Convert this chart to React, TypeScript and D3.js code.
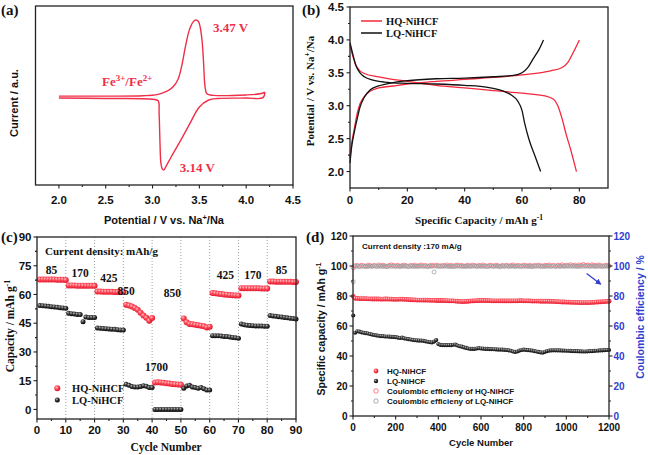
import React from "react";
import * as d3 from "d3";

const SANS = "'Liberation Sans', Arial, Helvetica, sans-serif";
const SERIF = "'Liberation Serif', 'Times New Roman', Times, serif";
const RED = "#f3283c";
const CVRED = "#ef2f48";
const BLUE = "#2f3fd0";
const INK = "#222";

// ---------- (a) CV ----------
const cvAnodicV = [2.0, 2.5, 2.9, 3.05, 3.15, 3.22, 3.27, 3.31, 3.35, 3.39, 3.43, 3.46, 3.49, 3.51, 3.53, 3.545, 3.56, 3.58, 3.65, 4.0, 4.15, 4.2];
const cvAnodicI = [0.02, 0.02, 0.025, 0.04, 0.08, 0.14, 0.23, 0.4, 0.65, 0.86, 0.97, 1.0, 0.98, 0.9, 0.72, 0.45, 0.15, 0.05, 0.03, 0.035, 0.05, 0.07];
const cvCathV = [4.2, 4.18, 4.0, 3.7, 3.6, 3.5, 3.4, 3.3, 3.2, 3.15, 3.12, 3.105, 3.09, 3.08, 3.07, 3.06, 3.0, 2.5, 2.0];
const cvCathI = [0.07, 0.0, -0.005, -0.01, -0.03, -0.12, -0.33, -0.55, -0.76, -0.87, -0.93, -0.92, -0.85, -0.6, -0.2, -0.04, -0.02, -0.01, -0.005];
const aXMajor = [2.0, 2.5, 3.0, 3.5, 4.0, 4.5];
const aXMinor = [2.25, 2.75, 3.25, 3.75, 4.25];

// ---------- (b) charge/discharge ----------
const hqChC = [0, 0.5, 1.5, 2.5, 3.5, 5, 7, 10, 15, 20, 30, 40, 50, 60, 70, 74, 76, 78, 80];
const hqChV = [2.2, 2.4, 2.65, 2.88, 3.03, 3.14, 3.22, 3.27, 3.3, 3.33, 3.37, 3.4, 3.43, 3.47, 3.53, 3.58, 3.66, 3.82, 4.0];
const hqDisC = [0, 1, 2, 3.5, 5, 10, 20, 30, 40, 50, 60, 68, 71, 72.5, 74, 75.5, 77, 79];
const hqDisV = [3.92, 3.75, 3.62, 3.53, 3.49, 3.44, 3.37, 3.31, 3.27, 3.23, 3.19, 3.15, 3.1, 3.0, 2.8, 2.55, 2.33, 2.0];
const lqChC = [0, 0.5, 1.5, 2.5, 3.5, 5, 7, 10, 15, 20, 30, 40, 50, 57, 60, 62, 64, 66, 67.5];
const lqChV = [2.13, 2.35, 2.6, 2.8, 2.98, 3.13, 3.24, 3.3, 3.35, 3.38, 3.41, 3.42, 3.44, 3.46, 3.5, 3.58, 3.72, 3.86, 4.0];
const lqDisC = [0, 1, 2, 3.5, 5, 8, 12, 20, 30, 40, 48, 53, 56, 58.5, 60, 61, 62.5, 64.5, 66.5];
const lqDisV = [3.96, 3.78, 3.62, 3.5, 3.44, 3.39, 3.36, 3.34, 3.33, 3.31, 3.28, 3.23, 3.17, 3.07, 2.93, 2.72, 2.48, 2.24, 2.0];
const bXMajor = [0, 20, 40, 60, 80];
const bXMinor = [10, 30, 50, 70];
const bYMajor = [2.0, 2.5, 3.0, 3.5, 4.0, 4.5];
const bYMinor = [2.25, 2.75, 3.25, 3.75, 4.25];

// ---------- (c) rate ----------
const cHQ = [
  67.8, 67.8, 67.8, 67.8, 67.8, 67.8, 67.7, 67.7, 67.7, 67.6,
  64.7, 64.7, 64.7, 64.6, 64.6, 64.6, 64.6, 64.5, 64.5, 64.5,
  61.5, 61.5, 61.4, 61.4, 61.4, 61.4, 61.3, 61.3, 61.3, 61.3,
  54.7, 54.2, 53.7, 53.0, 52.0, 50.5, 49.0, 47.8, 46.3, 47.7,
  14.0, 14.2, 14.1, 13.9, 13.6, 13.5, 13.3, 13.1, 13.0, 12.9,
  47.5, 45.5, 44.6, 44.4, 44.2, 44.0, 43.7, 43.4, 42.8, 43.2,
  60.8, 60.6, 60.4, 60.2, 60.0, 59.9, 59.7, 59.6, 59.5, 59.4,
  63.3, 63.3, 63.3, 63.2, 63.2, 63.2, 63.2, 63.1, 63.1, 63.1,
  66.8, 66.8, 66.7, 66.7, 66.7, 66.6, 66.6, 66.6, 66.5, 66.5,
];
const cLQ = [
  54.2, 54.1, 54.0, 53.8, 53.6, 53.5, 53.3, 53.1, 53.0, 52.8,
  50.2, 50.0, 49.8, 49.6, 49.5, 45.8, 48.2, 48.0, 48.0, 48.0,
  42.5, 42.4, 42.2, 42.1, 42.0, 41.9, 41.8, 41.6, 41.5, 41.4,
  13.1, 12.6, 11.9, 11.7, 11.7, 11.9, 12.4, 12.1, 11.4, 11.4,
  0, 0, 0, 0, 0, 0, 0, 0, 0, 0,
  11.0, 12.2, 12.6, 11.7, 11.4, 11.0, 11.4, 10.8, 10.1, 10.1,
  38.5, 38.5, 38.4, 38.3, 38.1, 38.0, 37.8, 37.6, 37.4, 37.2,
  44.6, 44.2, 43.9, 43.8, 43.7, 43.6, 43.6, 43.5, 43.4, 43.4,
  49.0, 48.8, 48.6, 48.4, 48.2, 48.0, 47.8, 47.6, 47.4, 47.2,
];
const cRates = ["85", "170", "425", "850", "1700", "850", "425", "170", "85"];
const cRateLabelX = [5, 15, 25, 31, 41.5, 47, 65.5, 75, 85];
const cRateLabelY = [70.6, 69, 66.7, 59.5, 20, 58.5, 68, 68, 70.6];
const cXMajor = [0, 10, 20, 30, 40, 50, 60, 70, 80, 90];
const cXMinor = [5, 15, 25, 35, 45, 55, 65, 75, 85];
const cYMajor = [0, 15, 30, 45, 60, 75, 90];
const cYMinor = [7.5, 22.5, 37.5, 52.5, 67.5, 82.5];
const cGrid = [10, 20, 30, 40, 50, 60, 70, 80];

// ---------- (d) long cycling (cycle 1, then every 10 cycles) ----------
const dCycles = [1, ...d3.range(10, 1201, 10)];
const dCapHQ = [
  79.8,
  78.5, 78.4, 78.3, 78.3, 78.2, 78.2, 78.1, 78.1, 78.0, 78.0, 78.0, 78.0, 77.9, 77.9, 78.0, 78.0, 77.9, 77.9, 77.8, 77.8,
  77.8, 77.9, 77.9, 77.8, 77.7, 77.6, 77.5, 77.4, 77.4, 77.3, 77.3, 77.3, 77.2, 77.2, 77.2, 77.1, 77.1, 77.1, 77.0, 77.0,
  77.0, 77.0, 76.9, 76.9, 76.8, 76.8, 76.7, 76.6, 76.5, 76.4, 76.3, 76.3, 76.4, 76.5, 76.6, 76.7, 76.8, 76.9, 77.0, 77.0,
  77.0, 77.0, 76.9, 76.9, 76.8, 76.8, 76.8, 76.8, 76.8, 76.7, 76.7, 76.7, 76.7, 76.7, 76.8, 76.8, 76.8, 76.9, 76.9, 76.8,
  76.8, 76.7, 76.7, 76.6, 76.6, 76.6, 76.6, 76.5, 76.5, 76.5, 76.5, 76.5, 76.4, 76.4, 76.3, 76.2, 76.1, 76.0, 76.0, 75.9,
  75.9, 75.8, 75.8, 75.7, 75.7, 75.6, 75.6, 75.6, 75.6, 75.6, 75.6, 75.7, 75.8, 75.9, 76.0, 76.1, 76.2, 76.3, 76.4, 76.5,
];
const dCapLQ = [
  67.0,
  55.5, 56.5, 56.2, 55.8, 55.5, 55.2, 55.0, 54.6, 54.3, 54.0, 53.7, 53.5, 53.3, 53.2, 53.0, 53.0, 52.9, 52.8, 52.7, 52.6,
  52.3, 52.0, 52.2, 51.8, 51.5, 51.2, 51.0, 50.8, 50.5, 50.4, 50.3, 50.3, 50.1, 49.8, 49.5, 49.3, 49.0, 49.6, 50.6, 48.0,
  47.4, 47.3, 47.3, 47.2, 47.3, 47.2, 47.5, 47.6, 47.0, 46.5, 46.2, 45.8, 45.4, 45.0, 44.8, 44.7, 44.8, 45.0, 45.2, 45.0,
  44.9, 44.8, 44.7, 44.6, 44.6, 44.5, 44.4, 44.3, 44.3, 44.2, 44.1, 44.0, 43.8, 43.5, 43.0, 42.7, 43.0, 43.6, 44.0, 44.2,
  44.1, 43.9, 43.8, 43.6, 43.3, 43.0, 42.7, 42.4, 42.3, 42.8, 43.3, 43.6, 43.7, 43.8, 43.8, 43.7, 43.7, 43.6, 43.6, 43.5,
  43.5, 43.4, 43.3, 43.2, 43.2, 43.1, 43.1, 43.0, 43.0, 43.1, 43.2, 43.3, 43.4, 43.5, 43.6, 43.7, 43.8, 43.9, 44.0, 44.0,
];
const dCeHQ = [
  98.8,
  100.2, 100.4, 99.8, 100.5, 100.1, 99.7, 100.6, 100.3, 100.0, 100.4, 99.9, 100.7, 100.2, 100.5, 100.1, 99.6, 100.4, 100.8, 100.3, 100.0,
  100.5, 99.8, 100.3, 100.6, 100.1, 99.7, 100.4, 100.2, 100.6, 99.9, 100.3, 100.7, 100.0, 100.4, 99.8, 100.2, 100.5, 100.1, 100.6, 100.3,
  99.9, 100.4, 100.2, 100.7, 100.0, 100.5, 99.7, 100.3, 100.6, 100.1, 100.4, 99.8, 100.2, 100.5, 100.0, 100.6, 100.3, 99.9, 100.4, 100.2,
  100.7, 100.1, 99.8, 100.5, 100.3, 100.0, 100.6, 100.2, 99.7, 100.4, 100.1, 100.5, 99.9, 100.3, 100.7, 100.0, 100.4, 100.2, 99.8, 100.6,
  100.3, 100.0, 100.5, 99.7, 100.4, 100.1, 100.6, 100.2, 99.9, 100.5, 100.3, 100.7, 100.0, 100.4, 99.8, 100.6, 100.2, 100.8, 100.1, 100.5,
  100.3, 100.9, 100.2, 100.6, 99.9, 100.7, 100.4, 101.0, 100.3, 100.6, 100.1, 100.8, 100.5, 100.2, 100.7, 100.4, 99.8, 100.3, 100.5, 100.1,
];
const dCeLQ = [
  89.5,
  99.7, 99.9, 99.8, 100.0, 99.8, 99.9, 99.7, 99.9, 99.8, 100.0, 99.9, 99.8, 99.9, 99.7, 99.9, 99.8, 100.0, 99.8, 99.9, 99.8,
  99.9, 99.7, 99.9, 99.8, 100.0, 99.8, 99.9, 99.8, 99.7, 99.9, 99.8, 99.9, 100.0, 99.8, 99.7, 99.9, 99.8, 96.0, 99.9, 99.8,
  99.9, 99.8, 100.0, 99.8, 99.9, 99.7, 99.9, 99.8, 99.9, 100.0, 99.8, 99.9, 99.7, 99.9, 99.8, 99.9, 100.0, 99.8, 99.9, 99.8,
  99.8, 99.9, 99.7, 99.9, 100.0, 99.8, 99.9, 99.8, 99.7, 99.9, 99.8, 100.0, 99.9, 99.8, 99.9, 99.7, 99.9, 99.8, 100.0, 99.9,
  99.8, 99.9, 99.7, 99.9, 99.8, 100.0, 99.9, 99.8, 99.9, 99.7, 99.9, 99.8, 99.9, 100.0, 99.8, 99.9, 99.7, 99.9, 99.8, 99.9,
  99.9, 99.8, 100.0, 99.8, 99.9, 99.7, 99.9, 99.8, 99.9, 100.0, 99.8, 99.9, 99.8, 99.7, 99.9, 99.8, 100.0, 99.9, 99.8, 99.9,
];
const dXMajor = [0, 200, 400, 600, 800, 1000, 1200];
const dXMinor = [100, 300, 500, 700, 900, 1100];
const dYMajor = [0, 20, 40, 60, 80, 100, 120];
const dYMinor = [10, 30, 50, 70, 90, 110];
const dLegend = ["HQ-NiHCF", "LQ-NiHCF", "Coulombic efficieny of HQ-NiHCF", "Coulombic efficieny of LQ-NiHCF"];

// ---------- helpers ----------
type AxisP = {
  orient: "bottom" | "left" | "right";
  scale: any;
  at: number;
  major: number[];
  minor?: number[];
  fmt: (v: number) => string;
  font: string;
  size: number;
  color?: string;
  off: number;
  len?: number;
  mlen?: number;
};
function Axis(p: AxisP) {
  const len = p.len ?? 3.5;
  const mlen = p.mlen ?? 2;
  const out: any[] = [];
  const tick = (v: number, l: number, key: string) => {
    const s = p.scale(v);
    if (p.orient === "bottom") out.push(<line key={key} x1={s} x2={s} y1={p.at} y2={p.at + l} stroke={INK} strokeWidth={1.1} />);
    else if (p.orient === "left") out.push(<line key={key} x1={p.at} x2={p.at - l} y1={s} y2={s} stroke={INK} strokeWidth={1.1} />);
    else out.push(<line key={key} x1={p.at} x2={p.at + l} y1={s} y2={s} stroke={INK} strokeWidth={1.1} />);
  };
  p.major.forEach((v, i) => tick(v, len, "M" + i));
  (p.minor || []).forEach((v, i) => tick(v, mlen, "m" + i));
  p.major.forEach((v, i) => {
    const s = p.scale(v);
    const common = { fontFamily: p.font, fontSize: p.size, fontWeight: 700, fill: p.color || "#111" };
    if (p.orient === "bottom")
      out.push(<text key={"t" + i} x={s} y={p.at + p.off} textAnchor="middle" {...common}>{p.fmt(v)}</text>);
    else if (p.orient === "left")
      out.push(<text key={"t" + i} x={p.at - p.off} y={s} dy="0.36em" textAnchor="end" {...common}>{p.fmt(v)}</text>);
    else
      out.push(<text key={"t" + i} x={p.at + p.off} y={s} dy="0.36em" textAnchor="start" {...common}>{p.fmt(v)}</text>);
  });
  return <g>{out}</g>;
}

function Frame({ x, y }: { x: any; y: any }) {
  const [x0, x1] = x.range();
  const [y0, y1] = y.range();
  return (
    <rect x={Math.min(x0, x1)} y={Math.min(y0, y1)} width={Math.abs(x1 - x0)} height={Math.abs(y1 - y0)}
      fill="none" stroke={INK} strokeWidth={1.3} />
  );
}

const f1 = (v: number) => v.toFixed(1);
const f0 = (v: number) => String(v);

export default function App() {
  const ax = d3.scaleLinear([1.75, 4.5], [35.5, 293]);
  const ay = d3.scaleLinear([-1.124, 1.18], [185, 6]);
  const bx = d3.scaleLinear([0, 90], [350, 608]);
  const by = d3.scaleLinear([1.75, 4.5], [188, 7]);
  const cx = d3.scaleLinear([0, 90], [37, 296]);
  const cy = d3.scaleLinear([-5, 90], [419, 237]);
  const dx = d3.scaleLinear([0, 1200], [353, 609]);
  const dy = d3.scaleLinear([0, 120], [416, 236]);

  const cvLine = d3.line<number>().curve(d3.curveCatmullRom.alpha(0.5));
  const anodic = cvLine(cvAnodicV.map((v, i) => [ax(v), ay(cvAnodicI[i])] as any) as any);
  const cath = cvLine(cvCathV.map((v, i) => [ax(v), ay(cvCathI[i])] as any) as any);

  const bLine = (cs: number[], vs: number[]) =>
    d3.line<number>().curve(d3.curveMonotoneX)(cs.map((c, i) => [bx(c), by(vs[i])] as any) as any);

  const cycles90 = d3.range(1, 91);

  return (
    <svg width={648} height={455} viewBox="0 0 648 455"
      style={{ position: "absolute", left: 0, top: 0, background: "#fff" }}>
      <defs>
        <radialGradient id="gRed" cx="38%" cy="35%" r="65%">
          <stop offset="0%" stopColor="#ffc4c8" />
          <stop offset="45%" stopColor="#ff4a58" />
          <stop offset="100%" stopColor="#e0122a" />
        </radialGradient>
        <radialGradient id="gBlk" cx="38%" cy="35%" r="65%">
          <stop offset="0%" stopColor="#b8b8b8" />
          <stop offset="45%" stopColor="#3a3a3a" />
          <stop offset="100%" stopColor="#050505" />
        </radialGradient>
        <marker id="arr" viewBox="0 0 10 10" refX="8" refY="5" markerWidth="5" markerHeight="5" orient="auto">
          <path d="M0,0 L10,5 L0,10 z" fill={BLUE} />
        </marker>
      </defs>

      {/* ================= (a) ================= */}
      <text x={1} y={15} fontFamily={SERIF} fontWeight={700} fontSize={15} fill="#111">(a)</text>
      <path d={anodic || ""} fill="none" stroke={CVRED} strokeWidth={1.4} />
      <path d={cath || ""} fill="none" stroke={CVRED} strokeWidth={1.4} />
      <Frame x={ax} y={ay} />
      <Axis orient="bottom" scale={ax} at={185} major={aXMajor} minor={aXMinor} fmt={f1} font={SANS} size={11.5} off={19} />
      <text x={ax(3.645)} y={ay(0.845)} fontFamily={SERIF} fontWeight={700} fontSize={13} fill={CVRED}>3.47 V</text>
      <text x={ax(3.29)} y={ay(-0.96)} fontFamily={SERIF} fontWeight={700} fontSize={13} fill={CVRED}>3.14 V</text>
      <text x={ax(2.46)} y={ay(0.15)} fontFamily={SERIF} fontWeight={700} fontSize={13} fill={CVRED}>
        Fe<tspan fontSize={9} dy={-5}>3+</tspan><tspan dy={5}>/Fe</tspan><tspan fontSize={9} dy={-5}>2+</tspan>
      </text>
      <text x={164} y={224} textAnchor="middle" fontFamily={SANS} fontWeight={700} fontSize={11} fill="#111">
        Potential / V vs. Na<tspan fontSize={7.5} dy={-4}>+</tspan><tspan dy={4}>/Na</tspan>
      </text>
      <text transform="translate(18,103) rotate(-90)" textAnchor="middle" fontFamily={SANS} fontWeight={700} fontSize={11} fill="#111">
        Current / a.u.
      </text>

      {/* ================= (b) ================= */}
      <text x={302} y={15} fontFamily={SERIF} fontWeight={700} fontSize={15} fill="#111">(b)</text>
      <path d={bLine(hqChC, hqChV) || ""} fill="none" stroke={RED} strokeWidth={1.3} />
      <path d={bLine(hqDisC, hqDisV) || ""} fill="none" stroke={RED} strokeWidth={1.3} />
      <path d={bLine(lqChC, lqChV) || ""} fill="none" stroke="#111" strokeWidth={1.3} />
      <path d={bLine(lqDisC, lqDisV) || ""} fill="none" stroke="#111" strokeWidth={1.3} />
      <Frame x={bx} y={by} />
      <Axis orient="bottom" scale={bx} at={188} major={bXMajor} minor={bXMinor} fmt={f0} font={SANS} size={11.5} off={16} />
      <Axis orient="left" scale={by} at={350} major={bYMajor} minor={bYMinor} fmt={f1} font={SANS} size={11.5} off={6} />
      <line x1={361} x2={382} y1={21} y2={21} stroke={RED} strokeWidth={1.5} />
      <line x1={361} x2={382} y1={33} y2={33} stroke="#111" strokeWidth={1.5} />
      <text x={386} y={24.5} fontFamily={SERIF} fontWeight={700} fontSize={10.5} fill="#111">HQ-NiHCF</text>
      <text x={386} y={36.5} fontFamily={SERIF} fontWeight={700} fontSize={10.5} fill="#111">LQ-NiHCF</text>
      <text x={479} y={224} textAnchor="middle" fontFamily={SERIF} fontWeight={700} fontSize={11} fill="#111">
        Specific Capacity / mAh g<tspan fontSize={7.5} dy={-4}>-1</tspan>
      </text>
      <text transform="translate(314,91) rotate(-90)" textAnchor="middle" fontFamily={SERIF} fontWeight={700} fontSize={11} fill="#111">
        Potential / V vs. Na<tspan fontSize={7.5} dy={-4}>+</tspan><tspan dy={4}>/Na</tspan>
      </text>

      {/* ================= (c) ================= */}
      <text x={1} y={242} fontFamily={SERIF} fontWeight={700} fontSize={15} fill="#111">(c)</text>
      {cGrid.map((g) => (
        <line key={"g" + g} x1={cx(g)} x2={cx(g)} y1={237} y2={419} stroke="#8a9a9a" strokeWidth={0.9} strokeDasharray="1,2" />
      ))}
      {cycles90.map((c, i) => (
        <circle key={"ch" + c} cx={cx(c)} cy={cy(cHQ[i])} r={3} fill="url(#gRed)" />
      ))}
      {cycles90.map((c, i) => (
        <circle key={"cl" + c} cx={cx(c)} cy={cy(cLQ[i])} r={2.5} fill="url(#gBlk)" />
      ))}
      <Frame x={cx} y={cy} />
      <Axis orient="bottom" scale={cx} at={419} major={cXMajor} minor={cXMinor} fmt={f0} font={SANS} size={11.5} off={14.5} />
      <Axis orient="left" scale={cy} at={37} major={cYMajor} minor={cYMinor} fmt={f0} font={SANS} size={11.5} off={5.5} />
      <text x={cx(2.8)} y={cy(80.6)} fontFamily={SERIF} fontWeight={700} fontSize={11} fill="#111">Current density: mAh/g</text>
      {cRates.map((r, i) => (
        <text key={"r" + i} x={cx(cRateLabelX[i])} y={cy(cRateLabelY[i])} textAnchor="middle"
          fontFamily={SERIF} fontWeight={700} fontSize={11.5} fill="#111">{r}</text>
      ))}
      <circle cx={57.3} cy={388.3} r={3} fill="url(#gRed)" />
      <circle cx={57.3} cy={400} r={2.5} fill="url(#gBlk)" />
      <text x={72} y={392} fontFamily={SERIF} fontWeight={700} fontSize={10.5} fill="#111">HQ-NiHCF</text>
      <text x={72} y={403.7} fontFamily={SERIF} fontWeight={700} fontSize={10.5} fill="#111">LQ-NiHCF</text>
      <text x={166} y={451} textAnchor="middle" fontFamily={SERIF} fontWeight={700} fontSize={11.5} fill="#111">Cycle Number</text>
      <text transform="translate(14,326) rotate(-90)" textAnchor="middle" fontFamily={SERIF} fontWeight={700} fontSize={11.5} fill="#111">
        Capacity / mAh g<tspan fontSize={8} dy={-4}>-1</tspan>
      </text>

      {/* ================= (d) ================= */}
      <text x={306} y={242} fontFamily={SERIF} fontWeight={700} fontSize={15} fill="#111">(d)</text>
      {dCycles.map((c, i) => (
        <circle key={"dh" + i} cx={dx(c)} cy={dy(dCapHQ[i])} r={2.4} fill="url(#gRed)" />
      ))}
      {dCycles.map((c, i) => (
        <circle key={"dl" + i} cx={dx(c)} cy={dy(dCapLQ[i])} r={2.1} fill="url(#gBlk)" />
      ))}
      {dCycles.map((c, i) => (
        <circle key={"eh" + i} cx={dx(c)} cy={dy(dCeHQ[i])} r={2} fill="none" stroke="#ff6a78" strokeWidth={0.8} />
      ))}
      {dCycles.map((c, i) => (
        <circle key={"el" + i} cx={dx(c)} cy={dy(dCeLQ[i])} r={2} fill="none" stroke="#9aa4a4" strokeWidth={0.8} />
      ))}
      <Frame x={dx} y={dy} />
      <Axis orient="bottom" scale={dx} at={416} major={dXMajor} minor={dXMinor} fmt={f0} font={SANS} size={10} off={14.5} />
      <Axis orient="left" scale={dy} at={353} major={dYMajor} minor={dYMinor} fmt={f0} font={SANS} size={10} off={5.5} />
      <Axis orient="right" scale={dy} at={609} major={dYMajor} minor={dYMinor} fmt={f0} font={SANS} size={10} off={4.5} color={BLUE} />
      <line x1={dx(1095)} y1={dy(95)} x2={dx(1160)} y2={dy(88)} stroke={BLUE} strokeWidth={1.2} markerEnd="url(#arr)" />
      <text x={362} y={249} fontFamily={SANS} fontWeight={700} fontSize={8} fill="#111">Current density :170 mA/g</text>
      {dLegend.map((t, i) => {
        const yy = 371 + i * 10;
        return (
          <g key={"lg" + i}>
            {i === 0 && <circle cx={376} cy={yy} r={2.4} fill="url(#gRed)" />}
            {i === 1 && <circle cx={376} cy={yy} r={2.2} fill="url(#gBlk)" />}
            {i === 2 && <circle cx={376} cy={yy} r={2.2} fill="none" stroke="#ff6a78" strokeWidth={0.9} />}
            {i === 3 && <circle cx={376} cy={yy} r={2.2} fill="none" stroke="#9aa4a4" strokeWidth={0.9} />}
            <text x={387} y={yy + 3} fontFamily={SANS} fontWeight={700} fontSize={8} fill="#111">{t}</text>
          </g>
        );
      })}
      <text x={481} y={446} textAnchor="middle" fontFamily={SANS} fontWeight={700} fontSize={9.5} fill="#111">Cycle Number</text>
      <text transform="translate(325,329) rotate(-90)" textAnchor="middle" fontFamily={SANS} fontWeight={700} fontSize={10.5} fill="#111">
        Specific capacity / mAh g<tspan fontSize={7} dy={-4}>-1</tspan>
      </text>
      <text transform="translate(644,317) rotate(-90)" textAnchor="middle" fontFamily={SANS} fontWeight={700} fontSize={10.5} fill={BLUE}>
        Coulombic efficiency / %
      </text>
    </svg>
  );
}
